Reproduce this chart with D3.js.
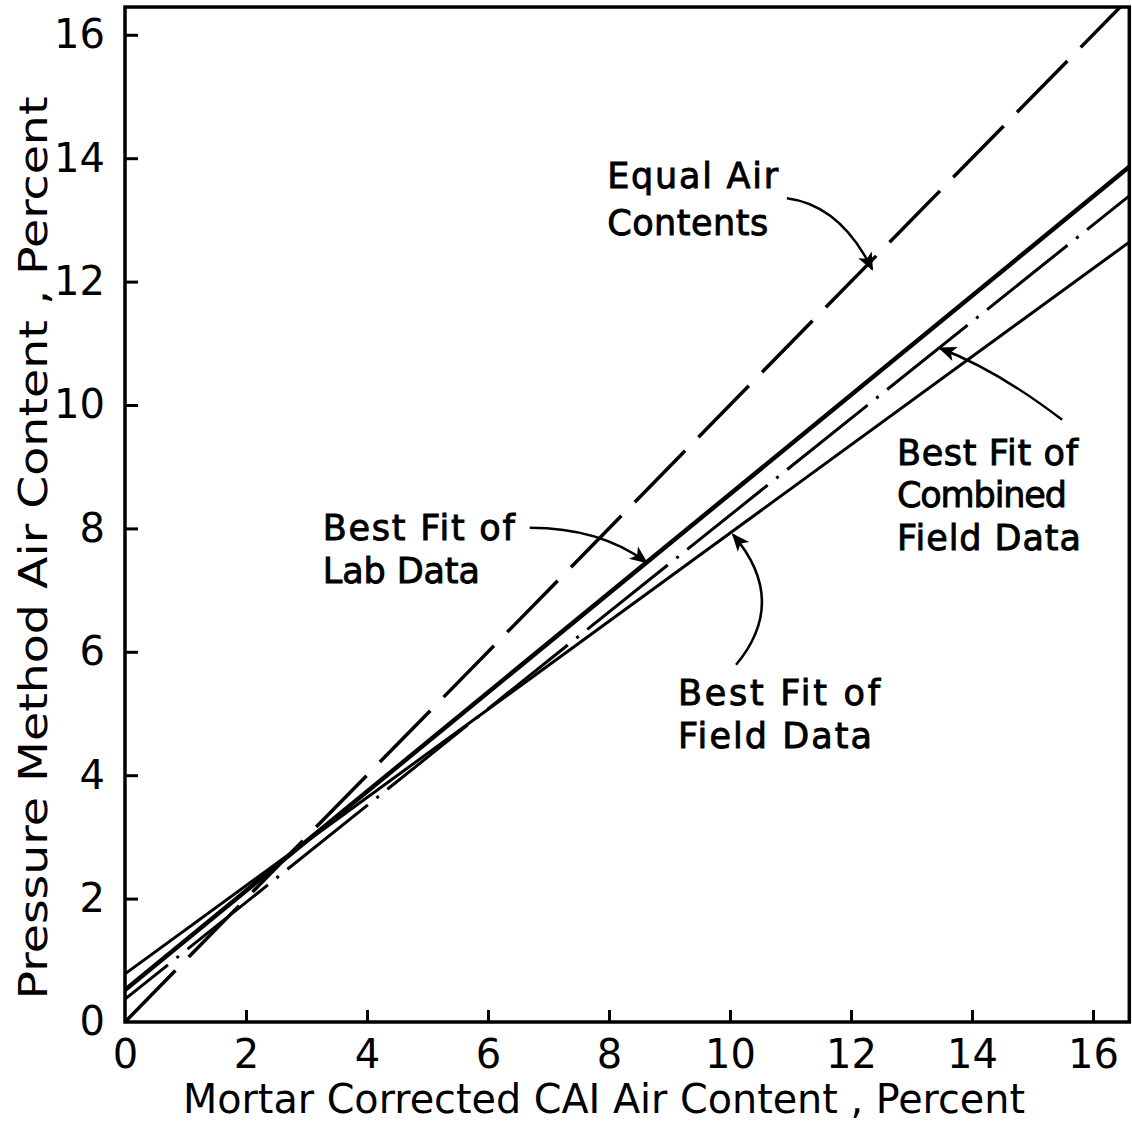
<!DOCTYPE html>
<html>
<head>
<meta charset="utf-8">
<script src="https://cdn.jsdelivr.net/npm/d3@7"></script>
<style>
  html, body { margin: 0; padding: 0; background: #fff; }
  svg { display: block; }
  text { font-family: "DejaVu Sans", sans-serif; fill: #000; }
</style>
</head>
<body>
<svg id="chart" width="1132" height="1125"></svg>
<script>
// Axis extents (percent) and tick values
const xMax = 16.6;
const yMax = 16.45;
const xTicks = [0, 2, 4, 6, 8, 10, 12, 14, 16];
const yTicks = [0, 2, 4, 6, 8, 10, 12, 14, 16];

// Fitted lines: [mortar-corrected CAI air, pressure-method air] end points
const equalAir = [[0, 0], [16.45, 16.45]];
const labFit = [[0, 0.52], [16.6, 13.86]];
const combinedFit = [[0, 0.37], [16.6, 13.39]];
const fieldFit = [[0, 0.78], [16.6, 12.64]];

// Callout labels (data coordinates of the first line's left baseline)
const labelLines = [
  { lines: ["Equal Air", "Contents"], at: [7.97, 13.52], step: 0.76, widths: [171, 161] },
  { lines: ["Best Fit of", "Lab Data"], at: [3.27, 7.81], step: 0.70, widths: [192, 157] },
  { lines: ["Best Fit of", "Combined", "Field Data"], at: [12.76, 9.03], step: 0.69, widths: [181, 170, 184] },
  { lines: ["Best Fit of", "Field Data"], at: [9.14, 5.14], step: 0.70, widths: [202, 194] }
];
// Callout arrows: tail, control, head (data coordinates)
const arrows = [
  [[10.94, 13.35], [11.82, 13.24], [12.35, 12.20]],
  [[6.69, 8.01], [7.85, 8.01], [8.62, 7.45]],
  [[15.49, 9.76], [14.41, 10.57], [13.47, 10.92]],
  [[10.10, 5.79], [10.98, 6.83], [10.05, 7.90]]
];

const svg = d3.select("#chart");
const x = d3.scaleLinear().domain([0, xMax]).range([125, 125 + xMax * 60.5]);
const y = d3.scaleLinear().domain([0, yMax]).range([1022, 1022 - yMax * 61.7]);

// Arrowhead marker
svg.append("defs").append("marker")
  .attr("id", "head")
  .attr("viewBox", "0 0 10 10")
  .attr("refX", 9).attr("refY", 5)
  .attr("markerWidth", 18).attr("markerHeight", 18)
  .attr("markerUnits", "userSpaceOnUse")
  .attr("orient", "auto")
  .append("path")
  .attr("d", "M0,0.8 L10,5 L0,9.2 L2.5,5 Z")
  .attr("fill", "#000");

// Axes with inward ticks
const yAxis = d3.axisLeft(y).tickValues(yTicks).tickSizeInner(-13).tickSizeOuter(0).tickPadding(20)
  .tickFormat(d3.format("d"));
const xAxis = d3.axisBottom(x).tickValues(xTicks).tickSizeInner(-12).tickSizeOuter(0).tickPadding(18)
  .tickFormat(d3.format("d"));

const gy = svg.append("g").attr("transform", `translate(${x(0)},0)`).call(yAxis);
const gx = svg.append("g").attr("transform", `translate(0,${y(0)})`).call(xAxis);
[gx, gy].forEach(g => {
  g.select(".domain").remove();
  g.selectAll(".tick line").attr("stroke", "#000").attr("stroke-width", 3);
  g.selectAll(".tick text").attr("font-size", 40).attr("font-family", "DejaVu Sans, sans-serif").attr("fill", "#000");
});
gx.selectAll(".tick").filter(d => d === 0).select("line").remove();
gy.selectAll(".tick").filter(d => d === 0).select("line").remove();

// Plot frame
svg.append("rect")
  .attr("x", x(0)).attr("y", y(yMax))
  .attr("width", x(xMax) - x(0)).attr("height", y(0) - y(yMax))
  .attr("fill", "none").attr("stroke", "#000").attr("stroke-width", 3.5);

// Lines
const line = d3.line().x(d => x(d[0])).y(d => y(d[1]));
const plot = svg.append("g").attr("fill", "none").attr("stroke", "#000");
plot.append("path").datum(equalAir).attr("d", line)
  .attr("stroke-width", 3.5).attr("stroke-dasharray", "72 19").attr("stroke-dashoffset", 0);
plot.append("path").datum(fieldFit).attr("d", line).attr("stroke-width", 3);
plot.append("path").datum(combinedFit).attr("d", line)
  .attr("stroke-width", 3).attr("stroke-dasharray", "103 11 3 11").attr("stroke-dashoffset", 48);
plot.append("path").datum(labFit).attr("d", line).attr("stroke-width", 4.5);

// Callout text
labelLines.forEach(lb => {
  lb.lines.forEach((t, i) => {
    svg.append("text")
      .attr("x", x(lb.at[0]))
      .attr("y", y(lb.at[1] - i * lb.step))
      .attr("font-size", 35)
      .attr("stroke", "#000").attr("stroke-width", 0.9)
      .attr("textLength", lb.widths[i])
      .attr("lengthAdjust", "spacing")
      .text(t);
  });
});

// Callout arrows
arrows.forEach(a => {
  const p = d3.path();
  p.moveTo(x(a[0][0]), y(a[0][1]));
  p.quadraticCurveTo(x(a[1][0]), y(a[1][1]), x(a[2][0]), y(a[2][1]));
  svg.append("path").attr("d", p.toString())
    .attr("fill", "none").attr("stroke", "#000").attr("stroke-width", 2.5)
    .attr("marker-end", "url(#head)");
});

// Axis titles
svg.append("text")
  .attr("x", 183).attr("y", 1113)
  .attr("font-size", 40)
  .attr("textLength", 842).attr("lengthAdjust", "spacingAndGlyphs")
  .text("Mortar Corrected CAI Air Content , Percent");

svg.append("text")
  .attr("transform", "translate(47,548) rotate(-90)")
  .attr("text-anchor", "middle")
  .attr("font-size", 39)
  .attr("textLength", 903).attr("lengthAdjust", "spacingAndGlyphs")
  .text("Pressure Method Air Content , Percent");
</script>
</body>
</html>
